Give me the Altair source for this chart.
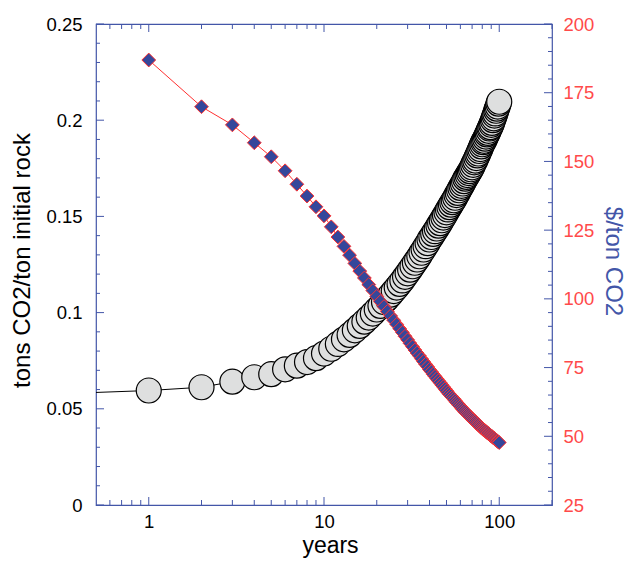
import altair as alt
import pandas as pd

# ---------------- data ----------------
years = list(range(1, 101))
tons = [0.0595, 0.0612, 0.0641, 0.0664, 0.0680, 0.0705, 0.0724, 0.0743, 0.0763, 0.0787,
        0.0812, 0.0837, 0.0861, 0.0884, 0.0908, 0.0931, 0.0953, 0.0974, 0.0995, 0.1016,
        0.1035, 0.1055, 0.1074, 0.1093, 0.1112, 0.1130, 0.1149, 0.1167, 0.1186, 0.1204,
        0.1223, 0.1241, 0.1259, 0.1276, 0.1293, 0.1311, 0.1328, 0.1345, 0.1361, 0.1380,
        0.1393, 0.1409, 0.1423, 0.1437, 0.1452, 0.1465, 0.1480, 0.1494, 0.1507, 0.1521,
        0.1536, 0.1548, 0.1561, 0.1574, 0.1584, 0.1597, 0.1611, 0.1622, 0.1636, 0.1648,
        0.1659, 0.1671, 0.1683, 0.1696, 0.1705, 0.1715, 0.1725, 0.1735, 0.1745, 0.1755,
        0.1768, 0.1781, 0.1790, 0.1803, 0.1817, 0.1827, 0.1840, 0.1850, 0.1864, 0.1875,
        0.1886, 0.1893, 0.1904, 0.1915, 0.1926, 0.1934, 0.1945, 0.1957, 0.1964, 0.1976,
        0.1986, 0.2000, 0.2010, 0.2024, 0.2035, 0.2049, 0.2060, 0.2071, 0.2086, 0.2096]
cost = [186.9, 169.9, 163.3, 156.8, 151.7, 146.6, 141.7, 137.4, 133.5, 130.2,
        126.2, 122.5, 119.1, 115.9, 112.9, 110.1, 107.6, 105.2, 103.0, 100.9,
        99.0, 97.2, 95.4, 93.8, 92.2, 90.7, 89.2, 87.8, 86.4, 85.1,
        83.8, 82.6, 81.4, 80.3, 79.3, 78.2, 77.2, 76.2, 75.3, 74.3,
        73.5, 72.6, 71.8, 71.0, 70.2, 69.5, 68.7, 68.0, 67.3, 66.6,
        65.9, 65.3, 64.7, 64.1, 63.6, 63.0, 62.4, 61.9, 61.3, 60.8,
        60.3, 59.8, 59.3, 58.8, 58.4, 58.0, 57.6, 57.2, 56.8, 56.4,
        56.0, 55.6, 55.3, 54.9, 54.5, 54.2, 53.8, 53.5, 53.1, 52.8,
        52.5, 52.3, 52.0, 51.7, 51.4, 51.2, 50.9, 50.6, 50.4, 50.1,
        49.9, 49.6, 49.4, 49.1, 48.9, 48.6, 48.4, 48.2, 47.9, 47.7]
# the black line enters from the left edge of the plot
line_start_year = [0.5]
line_start_tons = [0.0585]

x_labels = [1, 10, 100]
x_minor = [0.6, 0.7, 0.8, 0.9, 2, 3, 4, 5, 6, 7, 8, 9,
           20, 30, 40, 50, 60, 70, 80, 90, 200]
left_labels = [0, 0.05, 0.1, 0.15, 0.2, 0.25]
left_minor = [0.01, 0.02, 0.03, 0.04, 0.06, 0.07, 0.08, 0.09, 0.11, 0.12, 0.13, 0.14,
              0.16, 0.17, 0.18, 0.19, 0.21, 0.22, 0.23, 0.24]
right_labels = [25, 50, 75, 100, 125, 150, 175, 200]
right_minor = [v for v in range(30, 200, 5) if v % 25 != 0]

# ---------------- styling ----------------
W, H = 456, 481
BLUE = "#4356a8"
FILL_BLUE = "#34479b"
RED = "#ff3030"
LABEL_RED = "#ff4a4a"
GREY = "#dedfdf"
FONT = "Liberation Sans"

pts = pd.DataFrame({"year": years, "tons": tons, "cost": cost})
tline = pd.DataFrame({"year": line_start_year + years, "tons": line_start_tons + tons})

xs = alt.Scale(type="log", domain=[0.5, 200], nice=False)
ys_t = alt.Scale(domain=[0, 0.25], nice=False, zero=False)
ys_c = alt.Scale(domain=[25, 200], nice=False, zero=False)

x_axis = alt.Axis(values=x_labels, format="d", title="years", grid=False, domain=False,
                  ticks=False, labelPadding=7, labelFontSize=18.5,
                  labelColor="black", labelFont=FONT, titleFont=FONT, titleFontSize=23,
                  titleFontWeight="normal", titleColor="black", titleX=234, titleY=47,
                  titleBaseline="alphabetic", titleAlign="center")
left_axis = alt.Axis(values=left_labels, format="~g", title="tons CO2/ton initial rock",
                     orient="left", grid=False, domain=False, ticks=False, labelPadding=14,
                     labelFontSize=18.5, labelColor="black", labelFont=FONT, titleFont=FONT,
                     titleFontSize=24, titleFontWeight="normal", titleColor="black",
                     titleX=-74, titleY=236, titleAngle=270, titleBaseline="middle",
                     titleAlign="center")
right_axis = alt.Axis(values=right_labels, format="d", title="$/ton CO2", orient="right",
                      grid=False, domain=False, ticks=False, labelPadding=11,
                      labelFontSize=18.5, labelColor=LABEL_RED, labelFont=FONT,
                      titleFont=FONT, titleFontSize=24, titleFontWeight="normal",
                      titleColor=BLUE, titleX=60, titleY=237, titleAngle=90,
                      titleBaseline="middle", titleAlign="center")


def xticks(vals, length, top):
    d = pd.DataFrame({"v": vals})
    y0, y1 = (0, length) if top else (H, H - length)
    return alt.Chart(d).mark_rule(color=BLUE, strokeWidth=1).encode(
        x=alt.X("v:Q", scale=xs, axis=x_axis), y=alt.value(y0), y2=alt.value(y1))


def yticks(vals, length, scale, right):
    d = pd.DataFrame({"v": vals})
    x0, x1 = (W, W - length) if right else (0, length)
    return alt.Chart(d).mark_rule(color=BLUE, strokeWidth=1).encode(
        y=alt.Y("v:Q", scale=scale, axis=None), x=alt.value(x0), x2=alt.value(x1))


t_line = alt.Chart(tline).mark_line(color="black", strokeWidth=1).encode(
    x=alt.X("year:Q", scale=xs, axis=x_axis),
    y=alt.Y("tons:Q", scale=ys_t, axis=None))
t_pts = alt.Chart(pts).mark_point(shape="circle", filled=True, fill=GREY, stroke="black",
                                  strokeWidth=1.2, size=625, opacity=1).encode(
    x=alt.X("year:Q", scale=xs, axis=x_axis),
    y=alt.Y("tons:Q", scale=ys_t, axis=left_axis))
c_line = alt.Chart(pts).mark_line(color=RED, strokeWidth=1).encode(
    x=alt.X("year:Q", scale=xs, axis=x_axis),
    y=alt.Y("cost:Q", scale=ys_c, axis=None))
c_pts = alt.Chart(pts).mark_point(shape="diamond", filled=True, fill=FILL_BLUE, stroke=RED,
                                  strokeWidth=1, size=190, opacity=1).encode(
    x=alt.X("year:Q", scale=xs, axis=x_axis),
    y=alt.Y("cost:Q", scale=ys_c, axis=right_axis))

chart = alt.layer(
    t_line, t_pts, c_line, c_pts,
    yticks(left_labels, 8, ys_t, False), yticks(left_minor, 4, ys_t, False),
    yticks(right_labels, 8, ys_c, True), yticks(right_minor, 4, ys_c, True),
    xticks(x_labels, 8, False), xticks(x_minor, 5, False),
    xticks(x_labels, 8, True), xticks(x_minor, 5, True),
).resolve_scale(y="independent").properties(
    width=W, height=H,
    autosize=alt.AutoSizeParams(type="none"),
    padding={"left": 88, "top": 16, "right": 76, "bottom": 54},
    background="white",
).configure_view(stroke=BLUE, strokeWidth=1.2)

chart.save("out.html", embed_options={"renderer": "svg", "actions": False})
